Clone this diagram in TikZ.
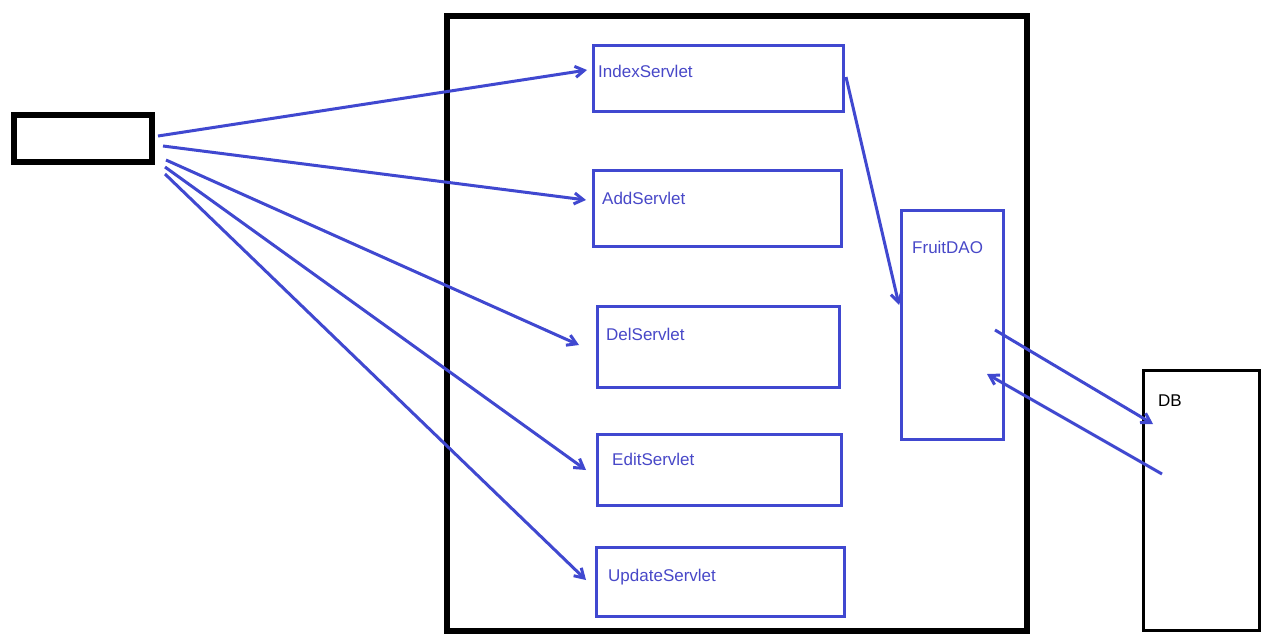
\documentclass[tikz,border=0pt]{standalone}
\usepackage{fontspec}
\setmainfont{Liberation Sans}
\usetikzlibrary{arrows.meta}
\definecolor{bl}{RGB}{64,72,208}
\definecolor{bltext}{RGB}{72,72,200}
\begin{document}
\begin{tikzpicture}[x=1pt,y=-1pt,
  blackbox/.style={draw=black,line width=6pt,anchor=north west,inner sep=0pt},
  bluebox/.style={draw=bl,line width=3pt,anchor=north west,inner sep=0pt},
  lbl/.style={anchor=west,text=bltext,font=\fontsize{17}{19}\selectfont,inner sep=0pt},
  conn/.style={draw=bl,line width=3pt,-{Straight Barb[length=9pt,width=11pt,line width=3pt]}}]
\useasboundingbox[fill=white] (0,0) rectangle (1279,643);
% client
\node[blackbox,minimum width=138pt,minimum height=47pt] (client) at (11,112) {};
% server
\node[blackbox,minimum width=580pt,minimum height=615pt] (server) at (444,13) {};
% servlets
\node[bluebox,minimum width=250pt,minimum height=66pt] (index) at (592,44) {};
\node[lbl] (indext) at (598,71) {IndexServlet};
\node[bluebox,minimum width=248pt,minimum height=76pt] (add) at (592,169) {};
\node[lbl] (addt) at (602,198) {AddServlet};
\node[bluebox,minimum width=242pt,minimum height=81pt] (del) at (596,305) {};
\node[lbl] (delt) at (606,334) {DelServlet};
\node[bluebox,minimum width=244pt,minimum height=71pt] (edit) at (596,433) {};
\node[lbl] (editt) at (612,459) {EditServlet};
\node[bluebox,minimum width=248pt,minimum height=69pt] (update) at (595,546) {};
\node[lbl] (updatet) at (608,577) {UpdateServlet};
% DAO
\node[bluebox,minimum width=102pt,minimum height=229pt] (dao) at (900,209) {};
\node[lbl] (daot) at (912,247) {FruitDAO};
% DB
\node[draw=black,line width=3pt,anchor=north west,inner sep=0pt,minimum width=116pt,minimum height=260pt] (db) at (1142,369) {};
\node[anchor=west,font=\fontsize{17}{19}\selectfont,inner sep=0pt] (dbt) at (1158,401) {DB};
% connector endpoints
\coordinate (c1) at (158,136);
\coordinate (c2) at (163,146);
\coordinate (c3) at (166,160);
\coordinate (c4) at (165,167);
\coordinate (c5) at (165,174);
\coordinate (i1) at (587,70);
\coordinate (a1) at (586,200);
\coordinate (d1) at (579,345);
\coordinate (e1) at (586,470);
\coordinate (u1) at (586,580);
\coordinate (x1) at (846,77);
\coordinate (f1) at (899,305);
\coordinate (f2) at (995,330);
\coordinate (b1) at (1153,424);
\coordinate (b2) at (1162,474);
\coordinate (f3) at (987,374);
\draw[conn] (c1) -- (i1);
\draw[conn] (c2) -- (a1);
\draw[conn] (c3) -- (d1);
\draw[conn] (c4) -- (e1);
\draw[conn] (c5) -- (u1);
\draw[conn] (x1) -- (f1);
\draw[conn] (f2) -- (b1);
\draw[conn] (b2) -- (f3);
\end{tikzpicture}
\end{document}
